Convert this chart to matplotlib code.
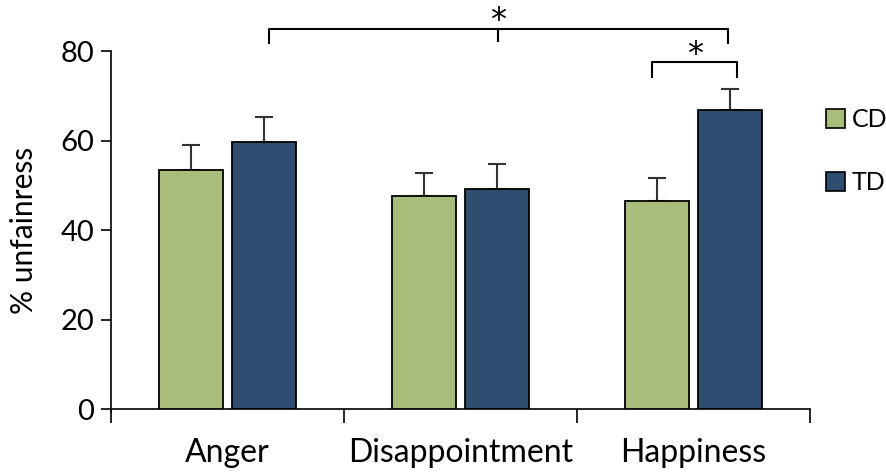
import matplotlib
matplotlib.use('Agg')
import matplotlib.pyplot as plt
import matplotlib.patches as mpatches
import numpy as np

plt.rcParams['font.family'] = ['Lato', 'DejaVu Sans']

categories = ['Anger', 'Disappointment', 'Happiness']
groups = ['CD', 'TD']
cd_means = [53.4, 47.6, 46.4]
cd_err = [5.6, 5.2, 5.2]
td_means = [59.7, 49.2, 66.8]
td_err = [5.6, 5.5, 4.7]
yticks = [0, 20, 40, 60, 80]

green = '#a7bd79'
blue = '#2f4d6f'

fig = plt.figure(figsize=(8.87, 4.75), dpi=100)
ax = fig.add_axes([0.1251, 0.1389, 0.7881, 0.7537])

x = np.arange(len(categories)) + 0.5
w = 0.275
off = 0.157

ax.bar(x - off, cd_means, w, color=green, edgecolor='black', lw=1.3, zorder=3)
ax.bar(x + off, td_means, w, color=blue, edgecolor='black', lw=1.3, zorder=3)
ax.errorbar(x - off, cd_means, yerr=[np.zeros(3), cd_err], fmt='none',
            ecolor='#333333', elinewidth=1.5, capsize=6.5, capthick=1.5, zorder=2)
ax.errorbar(x + off, td_means, yerr=[np.zeros(3), td_err], fmt='none',
            ecolor='#333333', elinewidth=1.5, capsize=6.5, capthick=1.5, zorder=2)

ax.set_xlim(0, 3)
ax.set_ylim(0, 80)
ax.spines[['right', 'top']].set_visible(False)
ax.spines['left'].set_bounds(-0.7, 80)
ax.spines[['left', 'bottom']].set_linewidth(1.2)
ax.set_yticks(yticks)
ax.tick_params(axis='y', labelsize=21, length=7, width=1.2, pad=5)
ax.set_xticks([0, 1, 2, 3])
ax.set_xticklabels([])
ax.tick_params(axis='x', which='major', length=10, width=1.2)
ax.set_xticks(x, minor=True)
ax.set_xticklabels(categories, minor=True)
ax.tick_params(axis='x', which='minor', length=0, labelsize=23, pad=21)
ax.set_ylabel('% unfainress', fontsize=21.5, labelpad=16)

# significance brackets
def bracket(x0, x1, y, h, mid=False):
    kw = dict(color='black', lw=1.5, clip_on=False)
    ax.plot([x0, x0, x1, x1], [y - h, y, y, y - h], **kw)
    if mid:
        xm = (x0 + x1) / 2
        ax.plot([xm, xm], [y, y - h * 0.8], **kw)

star = dict(ha='center', va='baseline', fontsize=23, family='DejaVu Sans',
            clip_on=False)
bracket(x[0] + off + 0.02, x[2] + off - 0.01, 84.9, 3.2, mid=True)
ax.text((x[0] + off + x[2] + off) / 2 + 0.005, 84.9, '*', **star)
bracket(x[2] - off - 0.02, x[2] + off + 0.03, 77.5, 3.3)
ax.text(x[2] + 0.005, 77.3, '*', **star)

handles = [mpatches.Patch(facecolor=green, edgecolor='black', lw=1.2),
           mpatches.Patch(facecolor=blue, edgecolor='black', lw=1.2)]
fig.legend(handles, groups, loc='upper left', bbox_to_anchor=(0.931, 0.772),
           frameon=False, fontsize=18, handlelength=0.75, handleheight=0.75,
           handletextpad=0.3, labelspacing=1.6, borderaxespad=0,
           borderpad=0)

fig.savefig('out.png', dpi=100)
